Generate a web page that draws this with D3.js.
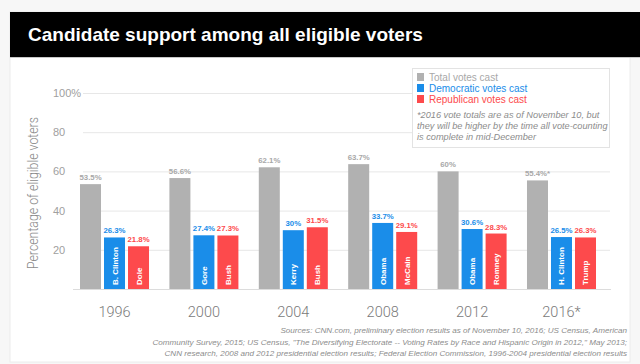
<!DOCTYPE html>
<html>
<head>
<meta charset="utf-8">
<script src="https://cdn.jsdelivr.net/npm/d3@7"></script>
<style>
  html, body { margin: 0; padding: 0; background: #f7f7f7; }
  svg { display: block; }
</style>
</head>
<body>
<svg id="chart"></svg>
<script>
const years = ["1996", "2000", "2004", "2008", "2012", "2016*"];
const total = [53.5, 56.6, 62.1, 63.7, 60, 55.4];
const dem = [26.3, 27.4, 30, 33.7, 30.6, 26.5];
const rep = [21.8, 27.3, 31.5, 29.1, 28.3, 26.3];
const demNames = ["B. Clinton", "Gore", "Kerry", "Obama", "Obama", "H. Clinton"];
const repNames = ["Dole", "Bush", "Bush", "McCain", "Romney", "Trump"];
const yTicks = [20, 40, 60, 80, 100];
const seriesKeys = ["total", "dem", "rep"];
const legendLabels = ["Total votes cast", "Democratic votes cast", "Republican votes cast"];
const noteLines = [
  "*2016 vote totals are as of November 10, but",
  "they will be higher by the time all vote-counting",
  "is complete in mid-December"
];
const sourceLines = [
  "Sources: CNN.com, preliminary election results as of November 10, 2016; US Census, American",
  "Community Survey, 2015; US Census, \"The Diversifying Electorate -- Voting Rates by Race and Hispanic Origin in 2012,\" May 2013;",
  "CNN research, 2008 and 2012 presidential election results; Federal Election Commission, 1996-2004 presidential election results"
];

const width = 640;
const height = 364;
const colors = { total: "#b1b1b1", dem: "#1a8de9", rep: "#fd4a4c" };
const labelColors = { total: "#a8a8a8", dem: "#1a8de9", rep: "#fd4a4c" };
const font = "'Liberation Sans', Arial, sans-serif";

const svg = d3.select("#chart").attr("width", width).attr("height", height);

// panel + title bar
svg.append("rect")
  .attr("x", 10).attr("y", 12).attr("width", 620).attr("height", 350)
  .attr("fill", "#fff").attr("stroke", "#ececec");
svg.append("rect")
  .attr("x", 10).attr("y", 12).attr("width", 630).attr("height", 45)
  .attr("fill", "#000");
svg.append("line")
  .attr("x1", 10).attr("x2", 640).attr("y1", 57.5).attr("y2", 57.5)
  .attr("stroke", "#c8c8c8");
svg.append("text")
  .attr("x", 28).attr("y", 41)
  .attr("fill", "#fff")
  .style("font-family", font).style("font-weight", "bold").style("font-size", "19px")
  .text("Candidate support among all eligible voters");

// scales
const y = d3.scaleLinear().domain([0, 100]).range([289, 93]);
const x0 = d3.scaleBand().domain(years).range([80, 596]).paddingInner(0.228).paddingOuter(0);
const x1 = d3.scaleBand().domain(seriesKeys).range([0, x0.bandwidth()]).paddingInner(0.125);

// grid
const grid = svg.append("g");
grid.selectAll("line").data(yTicks).join("line")
  .attr("x1", 83).attr("x2", 610)
  .attr("y1", d => y(d) + 0.5).attr("y2", d => y(d) + 0.5)
  .attr("stroke", "#e7e7e7");
grid.selectAll("text").data(yTicks).join("text")
  .attr("x", 53).attr("y", d => y(d) + 4)
  .attr("fill", "#a0a0a0")
  .style("font-family", font).style("font-weight", "300").style("font-size", "11px")
  .text(d => d === 100 ? "100%" : d);

svg.append("line")
  .attr("x1", 73).attr("x2", 611).attr("y1", y(0) + 0.5).attr("y2", y(0) + 0.5)
  .attr("stroke", "#dcdcdc");

svg.append("text")
  .attr("transform", `translate(38, ${193}) rotate(-90)`)
  .attr("text-anchor", "middle")
  .attr("textLength", 152).attr("lengthAdjust", "spacingAndGlyphs")
  .attr("fill", "#8a8a8a")
  .style("font-family", "Roboto, sans-serif").style("font-weight", "300").style("font-size", "14px")
  .text("Percentage of eligible voters");

// bars
const rows = years.map((yr, i) => ({
  year: yr,
  bars: [
    { key: "total", value: total[i], label: total[i] + "%" + (yr.endsWith("*") ? "*" : ""), name: "" },
    { key: "dem", value: dem[i], label: dem[i] + "%", name: demNames[i] },
    { key: "rep", value: rep[i], label: rep[i] + "%", name: repNames[i] }
  ]
}));

const groups = svg.append("g").selectAll("g").data(rows).join("g")
  .attr("transform", d => `translate(${x0(d.year)},0)`);

groups.selectAll("rect").data(d => d.bars).join("rect")
  .attr("x", d => x1(d.key))
  .attr("y", d => y(d.value))
  .attr("width", x1.bandwidth())
  .attr("height", d => y(0) - y(d.value))
  .attr("fill", d => colors[d.key]);

groups.selectAll("text.val").data(d => d.bars).join("text")
  .attr("class", "val")
  .attr("x", d => x1(d.key) + x1.bandwidth() / 2)
  .attr("y", d => y(d.value) - 4)
  .attr("text-anchor", "middle")
  .attr("fill", d => labelColors[d.key])
  .style("font-family", font).style("font-weight", "bold").style("font-size", "7.8px")
  .text(d => d.label);

groups.selectAll("text.name").data(d => d.bars.filter(b => b.name)).join("text")
  .attr("class", "name")
  .attr("transform", d => `translate(${x1(d.key) + x1.bandwidth() / 2 + 3},${y(0) - 4}) rotate(-90)`)
  .attr("fill", "#fff")
  .style("font-family", font).style("font-weight", "bold").style("font-size", "8px")
  .text(d => d.name);

// x labels
svg.append("g").selectAll("text").data(years).join("text")
  .attr("x", d => x0(d) + x0.bandwidth() / 2)
  .attr("y", 317)
  .attr("text-anchor", "middle")
  .attr("fill", "#7a7a7a")
  .style("font-family", "Roboto, sans-serif").style("font-weight", "300").style("font-size", "14.5px")
  .text(d => d);

// legend
const legend = svg.append("g");
legend.append("rect")
  .attr("x", 412.5).attr("y", 68.5).attr("width", 197).attr("height", 79)
  .attr("fill", "#fff").attr("stroke", "#e3e3e3");
legendLabels.forEach((lab, i) => {
  legend.append("rect")
    .attr("x", 417).attr("y", 73 + i * 11).attr("width", 7).attr("height", 8)
    .attr("fill", colors[seriesKeys[i]]);
  legend.append("text")
    .attr("x", 429).attr("y", 81 + i * 11)
    .attr("fill", labelColors[seriesKeys[i]])
    .style("font-family", font).style("font-size", "10px")
    .text(lab);
});
noteLines.forEach((t, i) => {
  legend.append("text")
    .attr("x", 417).attr("y", 118 + i * 11)
    .attr("fill", "#8c8c8c")
    .style("font-family", font).style("font-style", "italic").style("font-size", "9.2px")
    .text(t);
});

// sources
svg.append("g").selectAll("text").data(sourceLines).join("text")
  .attr("x", 627)
  .attr("y", (d, i) => 333 + i * 11.5)
  .attr("text-anchor", "end")
  .attr("fill", "#8c8c8c")
  .style("font-family", font).style("font-style", "italic").style("font-size", "8.1px")
  .text(d => d);
</script>
</body>
</html>
